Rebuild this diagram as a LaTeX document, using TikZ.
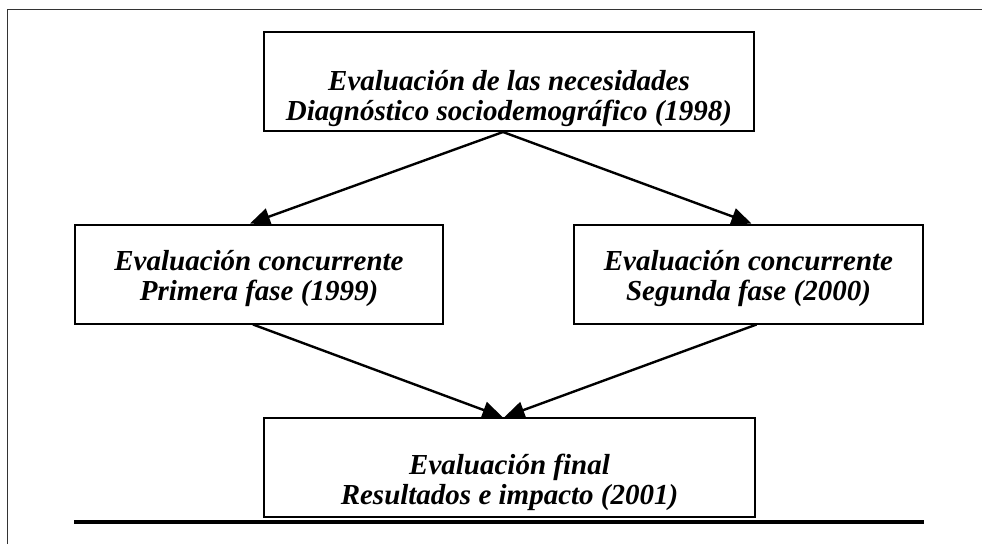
\documentclass[tikz,border=0pt]{standalone}
\usepackage{fontspec}
\setmainfont{Liberation Serif}
\usepackage{tikz}
\usetikzlibrary{arrows.meta}

\begin{document}
\begin{tikzpicture}[x=1pt, y=-1pt, >={Triangle[length=20pt, width=17pt]},
        fase/.style={draw, line width=2pt, inner sep=0pt, align=flush center, text width=#1,
            minimum height=99pt, font=\bfseries\itshape\fontsize{29}{30}\selectfont},
        flecha/.style={->, line width=2.4pt}]
        \useasboundingbox (0,0) rectangle (982,544);

        % Frame
        \draw[line width=1pt, black!80] (7.5,544) -- (7.5,9) -- (982,9);

        % Boxes
        \node[fase=490pt, text height=40pt, text depth=23pt] (necesidades) at (509,81.5)
            {Evaluación de las necesidades\\Diagnóstico sociodemográfico (1998)};
        \node[fase=368pt, text height=20pt, text depth=28pt] (primera) at (259,274)
            {Evaluación concurrente\\Primera fase (1999)};
        \node[fase=349pt, text height=20pt, text depth=28pt] (segunda) at (748.5,274)
            {Evaluación concurrente\\Segunda fase (2000)};
        \node[fase=491pt, text height=36pt, text depth=23pt] (final) at (509.5,467.5)
            {Evaluación final\\Resultados e impacto (2001)};

        % Arrows
        \draw[flecha] ([xshift=-6pt]necesidades.south) -- ([xshift=-9pt]primera.north);
        \draw[flecha] ([xshift=-6pt]necesidades.south) -- ([xshift=3pt]segunda.north);
        \draw[flecha] ([xshift=-6pt]primera.south) -- ([xshift=-7pt]final.north);
        \draw[flecha] ([xshift=8pt]segunda.south) -- ([xshift=-5pt]final.north);

        % Bottom rule
        \draw[line width=4.5pt] (74,522) -- (924,522);
\end{tikzpicture}
\end{document}
